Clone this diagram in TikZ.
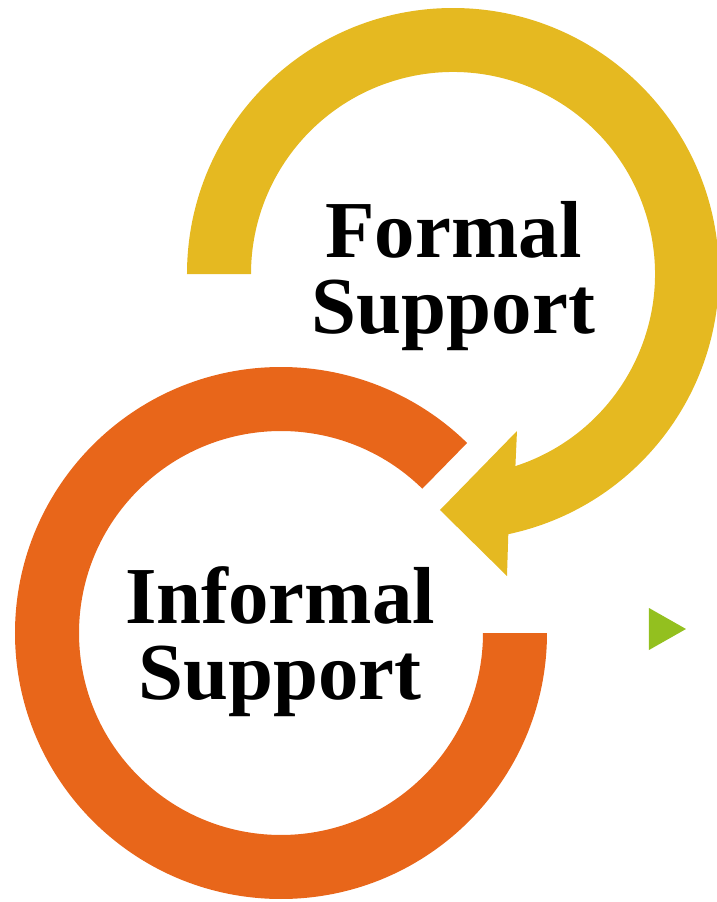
\documentclass[tikz,border=0pt]{standalone}
\usepackage{fontspec}
\setmainfont{Liberation Serif}
\usetikzlibrary{calc}

\definecolor{ringyellow}{RGB}{229,185,33}
\definecolor{ringorange}{RGB}{232,102,26}
\definecolor{markgreen}{RGB}{147,192,31}

\begin{document}
\begin{tikzpicture}[
    ringlabel/.style={align=center, inner sep=0pt, font=\fontsize{23}{21.6}\selectfont\bfseries},
]
\useasboundingbox (0,0) rectangle (7.17,9.02);

\coordinate (cformal) at (4.53,6.28);
\coordinate (cinformal) at (2.81,2.69);

% upper ring, turning into an arrow head
\fill[ringyellow] ($(cformal)+(180:2.66)$) arc[start angle=180, end angle=-78, radius=2.66]
    -- (5.07,3.26) -- (4.40,3.92) -- (5.17,4.71)
    -- ($(cformal)+(-72:2.02)$) arc[start angle=-72, end angle=180, radius=2.02] -- cycle;

% lower ring
\fill[ringorange] ($(cinformal)+(0:2.66)$) arc[start angle=0, end angle=-314.4, radius=2.66]
    -- ($(cinformal)+(45.6:2.02)$) arc[start angle=45.6, end angle=360, radius=2.02] -- cycle;

\node[ringlabel] (formal) at (4.535,6.26) {Formal\\Support};
\node[ringlabel] (informal) at (2.80,2.60) {Informal\\Support};

% small bullet on the right
\fill[markgreen] (6.49,2.94) -- (6.86,2.73) -- (6.49,2.52) -- cycle;
\end{tikzpicture}
\end{document}
